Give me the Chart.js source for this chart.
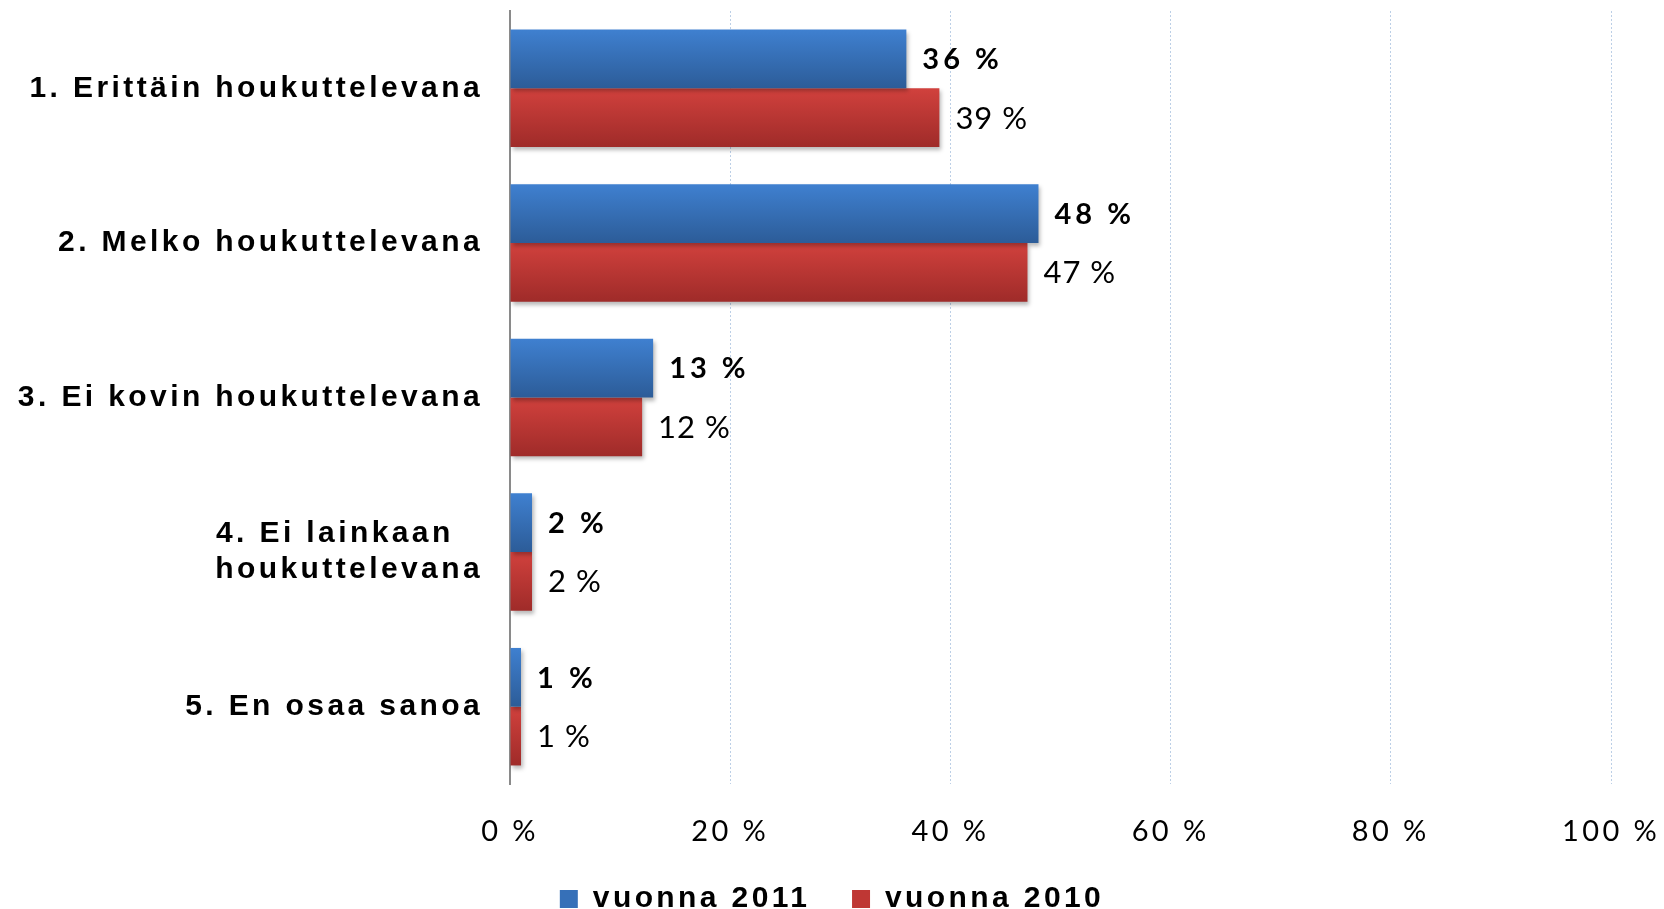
<!DOCTYPE html>
<html>
<head>
<meta charset="utf-8">
<title>Houkuttelevuus 2011 / 2010</title>
<script src="https://cdn.jsdelivr.net/npm/chart.js@4.4.1/dist/chart.umd.min.js"></script>
<style>
  html, body { margin:0; padding:0; background:#fff; }
  canvas { display:block; }
</style>
</head>
<body>
<canvas id="chart" width="1664" height="909"></canvas>
<script>
const categories = [
    "1. Erittäin houkuttelevana",
    "2. Melko houkuttelevana",
    "3. Ei kovin houkuttelevana",
    ["4. Ei lainkaan", "houkuttelevana"],
    "5. En osaa sanoa"
];
const values2011 = [36, 48, 13, 2, 1];
const values2010 = [39, 47, 12, 2, 1];
const seriesNames = ["vuonna 2011", "vuonna 2010"];
const xTicks = [0, 20, 40, 60, 80, 100];

// top / bottom colours of the bar gradients
const blueShade = ["#3f80d0", "#2c5c98"];
const redShade = ["#d1413d", "#9f2b29"];

const TEXT_SPACING = "3.4px";

// canvas letter spacing for the texts chart.js draws itself
const spacingPlugin = {
    id: "spacing",
    beforeUpdate(chart){ chart.ctx.letterSpacing = TEXT_SPACING; },
    beforeLayout(chart){ chart.ctx.letterSpacing = TEXT_SPACING; },
    beforeDraw(chart){ chart.ctx.letterSpacing = TEXT_SPACING; }
};

const barLookPlugin = {
    id: "barLook",
    beforeDatasetsDraw(chart){
        const ctx = chart.ctx;
        chart.data.datasets.forEach((ds, i) => {
            const shade = i === 0 ? blueShade : redShade;
            chart.getDatasetMeta(i).data.forEach(bar => {
                const top = bar.y - bar.height / 2;
                const g = ctx.createLinearGradient(0, top, 0, top + bar.height);
                g.addColorStop(0, shade[0]);
                g.addColorStop(1, shade[1]);
                bar.options.backgroundColor = g;
            });
        });
        ctx.save();
        ctx.shadowColor = "rgba(0,0,0,0.28)";
        ctx.shadowBlur = 4;
        ctx.shadowOffsetX = 2;
        ctx.shadowOffsetY = 3;
    },
    afterDatasetsDraw(chart){
        const ctx = chart.ctx;
        ctx.restore();

        chart.data.datasets.forEach((ds, i) => {
            const meta = chart.getDatasetMeta(i);
            ctx.save();
            ctx.fillStyle = "#000";
            ctx.textAlign = "left";
            ctx.textBaseline = "middle";
            if(i === 0){
                ctx.font = "bold 29px Lato";
                ctx.letterSpacing = "4px";
            }else{
                ctx.font = "31px Lato";
                ctx.letterSpacing = "1px";
            }
            meta.data.forEach((bar, j) => {
                ctx.fillText(ds.data[j] + " %", bar.x + 16, bar.y + 1);
            });
            ctx.restore();
        });
    }
};

const ctx = document.getElementById("chart");

new Chart(ctx, {
    type: "bar",
    data: {
        labels: categories,
        datasets: [
            {
                label: seriesNames[0],
                data: values2011,
                backgroundColor: () => "#3670b8",
                borderWidth: 0
            },
            {
                label: seriesNames[1],
                data: values2010,
                backgroundColor: () => "#bf3734",
                borderWidth: 0
            }
        ]
    },
    options: {
        indexAxis: "y",
        responsive: false,
        animation: false,
        devicePixelRatio: 1,
        events: [],
        layout: {
            padding: { top: 11, right: 0, bottom: -15, left: 0 }
        },
        datasets: {
            bar: { barPercentage: 1, categoryPercentage: 0.76 }
        },
        scales: {
            x: {
                min: xTicks[0],
                max: xTicks[xTicks.length - 1],
                afterBuildTicks(scale){
                    scale.ticks = xTicks.map(v => ({ value: v }));
                },
                afterFit(scale){
                    scale.height = 70;
                    scale.paddingRight = 53;
                },
                ticks: {
                    padding: 30,
                    color: "#000",
                    font: { family: "Lato", size: 29 },
                    maxRotation: 0,
                    callback: v => v + " %"
                },
                grid: {
                    drawTicks: false,
                    lineWidth: 1,
                    color: c => c.index === 0 ? "rgba(0,0,0,0)" : "#bccfe6"
                },
                border: { display: false, dash: [2, 2] }
            },
            y: {
                afterFit(scale){
                    scale.width = 510;
                    scale.paddingTop = 0;
                    scale.paddingBottom = 0;
                },
                ticks: {
                    padding: 27,
                    color: "#000",
                    font: { family: "Liberation Sans", size: 30, weight: "bold", lineHeight: 1.2 },
                    callback(v, i){
                        const lab = categories[i];
                        if(Array.isArray(lab)){
                            // keep the two lines flush left
                            return [lab[0] + "  \u200A", lab[1]];
                        }
                        return lab;
                    }
                },
                grid: { display: false, drawTicks: false },
                border: { display: true, color: "#8a8a8a", width: 2 }
            }
        },
        plugins: {
            tooltip: { enabled: false },
            legend: {
                position: "bottom",
                labels: {
                    color: "#000",
                    font: { family: "Liberation Sans", size: 30, weight: "bold" },
                    boxWidth: 18,
                    boxHeight: 18,
                    padding: 30,
                    generateLabels(chart){
                        const items = Chart.defaults.plugins.legend.labels.generateLabels(chart);
                        items[0].text = items[0].text + " ";
                        return items;
                    }
                }
            }
        }
    },
    plugins: [spacingPlugin, barLookPlugin]
});
</script>
</body>
</html>
